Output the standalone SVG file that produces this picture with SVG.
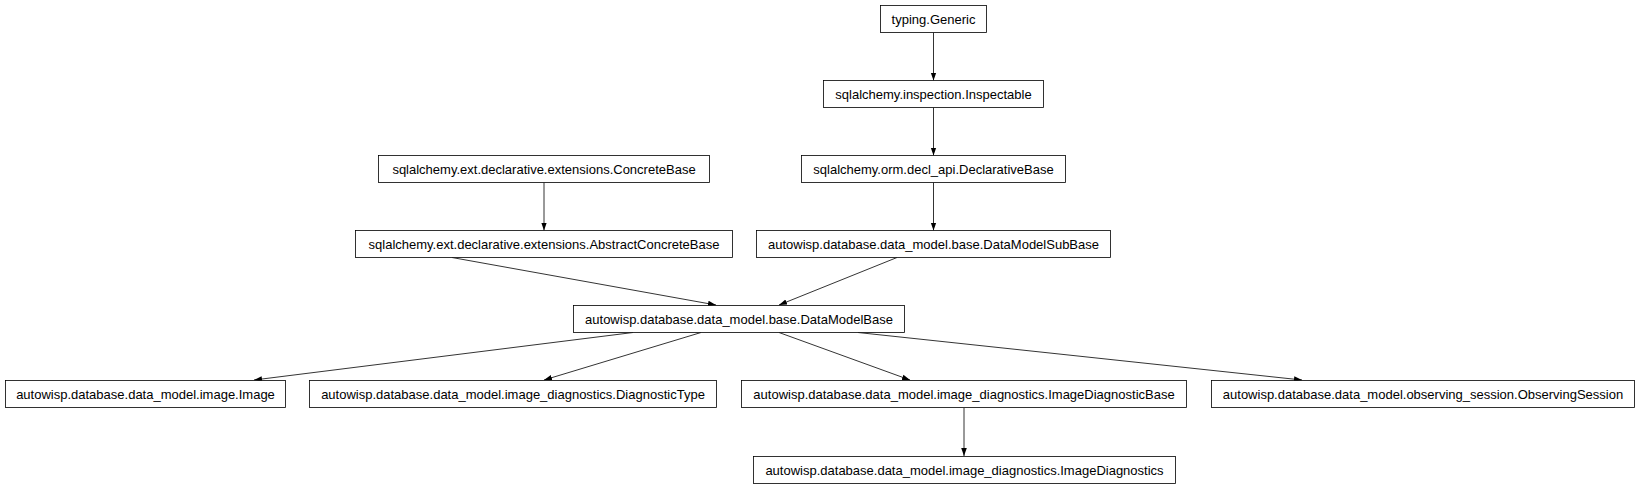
<svg xmlns="http://www.w3.org/2000/svg" width="1640" height="485" viewBox="0 0 1640 485">
<style>
.n{fill:#fff;stroke:#000;stroke-width:0.8}
text{font-family:"Liberation Sans",Arial,sans-serif;font-size:13px;text-anchor:middle;fill:#000}
.e{stroke:#000;stroke-width:0.8;fill:none;marker-end:url(#a)}
</style>
<defs><marker id="a" viewBox="0 0 10 10" refX="10" refY="5" markerWidth="8" markerHeight="8" markerUnits="userSpaceOnUse" orient="auto"><path d="M0,1.5L10,5L0,8.5z" fill="#000"/></marker></defs>
<rect width="1640" height="485" fill="#fff"/>
<g id="connectors">
<line class="e" x1="933.5" y1="32.5" x2="933.5" y2="80.5"/>
<line class="e" x1="933.5" y1="107.5" x2="933.5" y2="155.5"/>
<line class="e" x1="933.5" y1="182.5" x2="933.5" y2="230.5"/>
<line class="e" x1="544" y1="182.5" x2="544" y2="230.5"/>
<line class="e" x1="452" y1="257.5" x2="716" y2="305"/>
<line class="e" x1="897" y1="257.5" x2="779" y2="305"/>
<line class="e" x1="633" y1="332.5" x2="254" y2="380"/>
<line class="e" x1="701" y1="332.5" x2="544" y2="380"/>
<line class="e" x1="779" y1="332.5" x2="910" y2="380"/>
<line class="e" x1="858" y1="332.5" x2="1302" y2="380"/>
<line class="e" x1="964" y1="408" x2="964" y2="456"/>
</g>
<g id="n1"><rect class="n" x="880.5" y="5.5" width="106" height="27"/><text x="933.5" y="23.5">typing.Generic</text></g>
<g id="n2"><rect class="n" x="823.5" y="80.5" width="220" height="27"/><text x="933.5" y="98.5">sqlalchemy.inspection.Inspectable</text></g>
<g id="n3"><rect class="n" x="801.5" y="155.5" width="264" height="27"/><text x="933.5" y="173.5">sqlalchemy.orm.decl_api.DeclarativeBase</text></g>
<g id="n4"><rect class="n" x="378.5" y="155.5" width="331" height="27"/><text x="544" y="173.5">sqlalchemy.ext.declarative.extensions.ConcreteBase</text></g>
<g id="n5"><rect class="n" x="355.5" y="230.5" width="377" height="27"/><text x="544" y="248.5">sqlalchemy.ext.declarative.extensions.AbstractConcreteBase</text></g>
<g id="n6"><rect class="n" x="756.5" y="230.5" width="354" height="27"/><text x="933.5" y="248.5">autowisp.database.data_model.base.DataModelSubBase</text></g>
<g id="n7"><rect class="n" x="573.5" y="305.5" width="331" height="27"/><text x="739" y="323.5">autowisp.database.data_model.base.DataModelBase</text></g>
<g id="n8"><rect class="n" x="5.5" y="380.5" width="280" height="27"/><text x="145.5" y="398.5">autowisp.database.data_model.image.Image</text></g>
<g id="n9"><rect class="n" x="309.5" y="380.5" width="407" height="27"/><text x="513" y="398.5">autowisp.database.data_model.image_diagnostics.DiagnosticType</text></g>
<g id="n10"><rect class="n" x="741.5" y="380.5" width="445" height="27"/><text x="964" y="398.5">autowisp.database.data_model.image_diagnostics.ImageDiagnosticBase</text></g>
<g id="n11"><rect class="n" x="1211.5" y="380.5" width="423" height="27"/><text x="1423" y="398.5">autowisp.database.data_model.observing_session.ObservingSession</text></g>
<g id="n12"><rect class="n" x="753.5" y="456.5" width="422" height="27"/><text x="964.5" y="474.5">autowisp.database.data_model.image_diagnostics.ImageDiagnostics</text></g>
</svg>
